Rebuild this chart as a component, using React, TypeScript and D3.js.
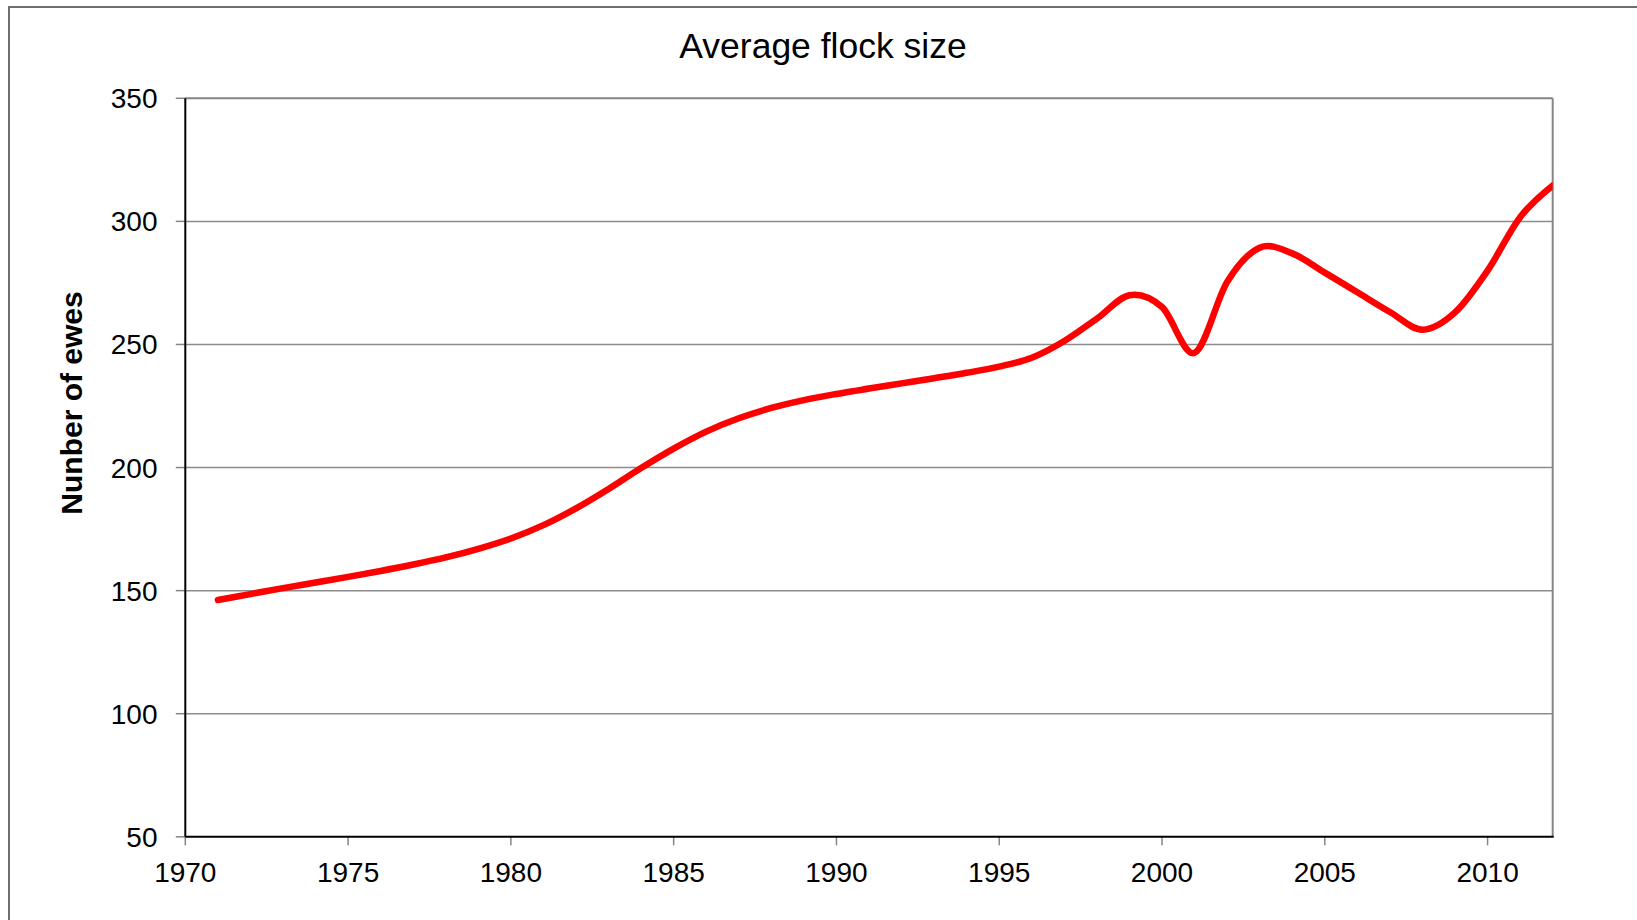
import React from "react";
import * as d3 from "d3";

// Average flock size (number of ewes) by year
const years = [
  1971, 1972, 1973, 1974, 1975, 1976, 1977, 1978, 1979, 1980,
  1981, 1982, 1983, 1984, 1985, 1986, 1987, 1988, 1989, 1990,
  1991, 1992, 1993, 1994, 1995, 1996, 1997, 1998, 1999, 2000,
  2001, 2002, 2003, 2004, 2005, 2006, 2007, 2008, 2009, 2010,
  2011, 2012,
];
const ewes = [
  146.2, 148.6, 151.0, 153.3, 155.6, 158.0, 160.6, 163.5, 167.0, 171.2,
  176.6, 183.4, 191.3, 199.8, 207.7, 214.6, 220.0, 224.2, 227.4, 229.9,
  232.1, 234.2, 236.3, 238.5, 241.0, 244.6, 251.4, 260.5, 270.0, 265.2,
  246.6, 275.4, 289.3, 287.0, 279.2, 271.2, 263.2, 256.0, 263.0, 280.0,
  301.7, 314.6,
];
const yTicks = [50, 100, 150, 200, 250, 300, 350];
const xTicks = [1970, 1975, 1980, 1985, 1990, 1995, 2000, 2005, 2010];

const FONT = "'Liberation Sans', Arial, Helvetica, sans-serif";

export default function App() {
  const W = 1637;
  const H = 920;
  const plot = { left: 185.3, right: 1552.7, top: 98.3, bottom: 836.8 };

  const x = d3.scaleLinear().domain([1970, 2012]).range([plot.left, plot.right]);
  const y = d3.scaleLinear().domain([50, 350]).range([plot.bottom, plot.top]);

  const path = d3
    .line<number>()
    .x((_, i) => x(years[i]))
    .y((d) => y(d))
    .curve(d3.curveCardinal.tension(0))(ewes) as string;

  return (
    <svg
      width={W}
      height={H}
      viewBox={`0 0 ${W} ${H}`}
      style={{ position: "absolute", left: 0, top: 0, background: "#fff" }}
      fontFamily={FONT}
    >
      <defs>
        <clipPath id="plotClip">
          <rect x={plot.left - 20} y={0} width={plot.right - plot.left + 20} height={H} />
        </clipPath>
      </defs>

      {/* chart frame */}
      <rect x={9} y={7} width={W + 40} height={H + 40} fill="#fff" stroke="#6e6e6e" strokeWidth={2} />

      {/* title */}
      <text x={823} y={57.8} textAnchor="middle" fontSize={35.5} fill="#000">
        Average flock size
      </text>

      {/* horizontal gridlines */}
      {yTicks
        .filter((t) => t > 50 && t < 350)
        .map((t) => (
          <line
            key={`g${t}`}
            x1={plot.left}
            x2={plot.right}
            y1={y(t)}
            y2={y(t)}
            stroke="#8c8c8c"
            strokeWidth={1.5}
          />
        ))}

      {/* plot border: top and right */}
      <line x1={plot.left} x2={plot.right} y1={plot.top} y2={plot.top} stroke="#858585" strokeWidth={2} />
      <line x1={plot.right} x2={plot.right} y1={plot.top} y2={plot.bottom} stroke="#858585" strokeWidth={2} />

      {/* y axis */}
      {yTicks.map((t) => (
        <g key={`y${t}`}>
          <line x1={plot.left - 9.5} x2={plot.left} y1={y(t)} y2={y(t)} stroke="#858585" strokeWidth={1.5} />
          <text x={157.5} y={y(t) + 10} textAnchor="end" fontSize={28} fill="#000">
            {t}
          </text>
        </g>
      ))}
      <line x1={plot.left} x2={plot.left} y1={plot.top} y2={plot.bottom} stroke="#000" strokeWidth={2} />

      {/* x axis */}
      {xTicks.map((t) => (
        <g key={`x${t}`}>
          <line x1={x(t)} x2={x(t)} y1={plot.bottom} y2={plot.bottom + 8.5} stroke="#858585" strokeWidth={1.5} />
          <text x={x(t)} y={plot.bottom + 45} textAnchor="middle" fontSize={28} fill="#000">
            {t}
          </text>
        </g>
      ))}
      <line x1={plot.left} x2={plot.right + 1} y1={plot.bottom} y2={plot.bottom} stroke="#000" strokeWidth={2} />

      {/* y axis title */}
      <text
        transform={`translate(81.5, 403) rotate(-90)`}
        textAnchor="middle"
        fontSize={30}
        fontWeight="bold"
        fill="#000"
      >
        Nunber of ewes
      </text>

      {/* series */}
      <path
        d={path}
        fill="none"
        stroke="#ff0000"
        strokeWidth={6.5}
        strokeLinecap="round"
        strokeLinejoin="round"
        clipPath="url(#plotClip)"
      />
    </svg>
  );
}
